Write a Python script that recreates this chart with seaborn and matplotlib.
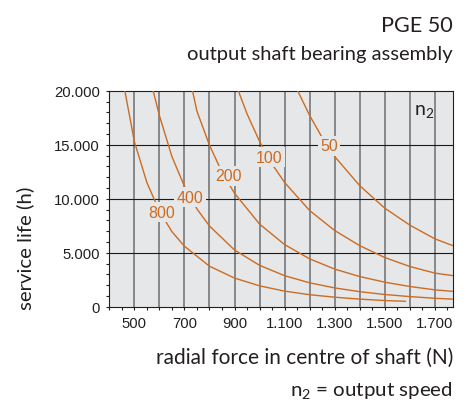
import numpy as np
import pandas as pd
import matplotlib
matplotlib.use("Agg")
import matplotlib.pyplot as plt
import seaborn as sns
from matplotlib.ticker import MultipleLocator

# ---------------- data ----------------
speeds = [800, 400, 200, 100, 50]

force_800 = [462, 500, 550, 600, 650, 700, 800, 900, 1000, 1100, 1200, 1300, 1400, 1500, 1583]
life_800 = [20000, 15300, 11500, 8850, 6950, 5600, 3750, 2650, 1930, 1440, 1110, 880, 700, 570, 500]

force_400 = [575, 600, 650, 700, 750, 800, 900, 1000, 1100, 1200, 1300, 1400, 1500, 1600, 1700, 1771]
life_400 = [20000, 17700, 13900, 11150, 9050, 7470, 5250, 3830, 2870, 2210, 1740, 1390, 1130, 935, 780, 700]

force_200 = [732, 750, 800, 850, 900, 1000, 1100, 1200, 1300, 1400, 1500, 1600, 1700, 1771]
life_200 = [20000, 18100, 14950, 12450, 10500, 7650, 5750, 4430, 3480, 2790, 2270, 1870, 1560, 1420]

force_100 = [915, 950, 1000, 1050, 1100, 1200, 1300, 1400, 1500, 1600, 1700, 1771]
life_100 = [20000, 17850, 15300, 13200, 11500, 8900, 7050, 5650, 4550, 3720, 3110, 2880]

force_50 = [1152, 1200, 1250, 1300, 1400, 1500, 1600, 1700, 1771]
life_50 = [20000, 17700, 15650, 13900, 11200, 9120, 7550, 6280, 5660]

label_text = ["800", "400", "200", "100", "50"]
label_x = [607, 723, 874, 1039, 1278]
label_y = [8740, 10130, 12130, 13830, 14910]

x_tick_values = [500, 700, 900, 1100, 1300, 1500, 1700]
x_tick_labels = ["500", "700", "900", "1.100", "1.300", "1.500", "1.700"]
y_tick_values = [0, 5000, 10000, 15000, 20000]
y_tick_labels = ["0", "5.000", "10.000", "15.000", "20.000"]

# ---------------- build table ----------------
frames = []
for n, fx, ly in zip(speeds,
                     [force_800, force_400, force_200, force_100, force_50],
                     [life_800, life_400, life_200, life_100, life_50]):
    frames.append(pd.DataFrame({"force": fx, "life": ly, "n2": str(n)}))
df = pd.concat(frames, ignore_index=True)

# ---------------- styling ----------------
sns.set_theme(style="white")
plt.rcParams["font.family"] = ["Liberation Sans", "DejaVu Sans"]
plt.rcParams["mathtext.default"] = "regular"

ORANGE = "#cc6c22"
BG = "#e6e7e8"
TXT = "#231f20"
TITLE_FONT = ["Lato", "DejaVu Sans"]

W, H = 472, 406
fig = plt.figure(figsize=(W / 100, H / 100), dpi=100)
fig.patch.set_facecolor("white")

left, right, top, bottom = 109.3, 452.7, 91.7, 307.7
ax = fig.add_axes([left / W, 1 - bottom / H, (right - left) / W, (bottom - top) / H])
ax.set_facecolor(BG)

# grid
for gx in range(500, 1800, 100):
    ax.axvline(gx, color="#808185", lw=1.3, zorder=1)
for gy in [5000, 10000, 15000]:
    ax.axhline(gy, color="#1a1a1a", lw=0.8, zorder=1.5)

sns.lineplot(data=df, x="force", y="life", hue="n2",
             palette=[ORANGE] * len(speeds), hue_order=[str(s) for s in speeds],
             estimator=None, sort=True, legend=False, lw=1.0, ax=ax, zorder=3)

for t, lx, lyv in zip(label_text, label_x, label_y):
    ax.text(lx, lyv, t, color=ORANGE, fontsize=11.5, ha="center", va="center",
            family=["Liberation Sans", "DejaVu Sans"], zorder=6,
            bbox=dict(boxstyle="square,pad=0.15", fc=BG, ec="none"))

ax.text(1656, 18150, "n$_2$", color=TXT, fontsize=14, ha="center", va="center",
        family=TITLE_FONT, zorder=6)

ax.set_xlim(400, 1771)
ax.set_ylim(0, 20000)
ax.set_xticks(x_tick_values)
ax.set_xticklabels(x_tick_labels)
ax.xaxis.set_minor_locator(MultipleLocator(50))
ax.set_yticks(y_tick_values)
ax.set_yticklabels(y_tick_labels)
ax.yaxis.set_minor_locator(MultipleLocator(1000))
ax.set_xlabel("")
ax.set_ylabel("")

ax.tick_params(axis="both", which="both", direction="out", length=2.2, width=0.8,
               color="#231f20", labelsize=10.7, labelcolor=TXT)
ax.tick_params(axis="both", which="both", bottom=True, left=True, top=False, right=False)
ax.tick_params(axis="x", which="major", pad=4.3)
ax.tick_params(axis="y", which="major", pad=4.7)
for s in ax.spines.values():
    s.set_visible(True)
    s.set_color("#231f20")
    s.set_linewidth(0.8)

# ---------------- titles / labels ----------------
t1 = fig.text(453 / W, 1 - 31.7 / H, "PGE 50", ha="right", va="baseline",
              fontsize=16.5, color=TXT, family=TITLE_FONT)
t2 = fig.text(453 / W, 1 - 60 / H, "output shaft bearing assembly", ha="right", va="baseline",
              fontsize=13.3, color=TXT, family=TITLE_FONT)
t3 = fig.text(453 / W, 1 - 364 / H, "radial force in centre of shaft (N)", ha="right", va="baseline",
              fontsize=13.3, color=TXT, family=TITLE_FONT)
t4 = fig.text(453 / W, 1 - 396 / H, "n$_2$ = output speed", ha="right", va="baseline",
              fontsize=13.3, color=TXT, family=TITLE_FONT)
t5 = fig.text(25 / W, 1 - 248 / H, "service life (h)", ha="center", va="center", rotation=90,
              fontsize=13.3, color=TXT, family=TITLE_FONT)

# fit text sizes to target pixel extents
fig.canvas.draw()
r = fig.canvas.get_renderer()
for t, target, dim in [(t1, 72, "w"), (t2, 266, "w"), (t3, 298, "w"), (t4, 163, "w"), (t5, 123, "h")]:
    bb = t.get_window_extent(renderer=r)
    cur = bb.width if dim == "w" else bb.height
    if cur > 0:
        t.set_fontsize(t.get_fontsize() * target / cur)

fig.savefig("out.png", dpi=100, facecolor="white")
